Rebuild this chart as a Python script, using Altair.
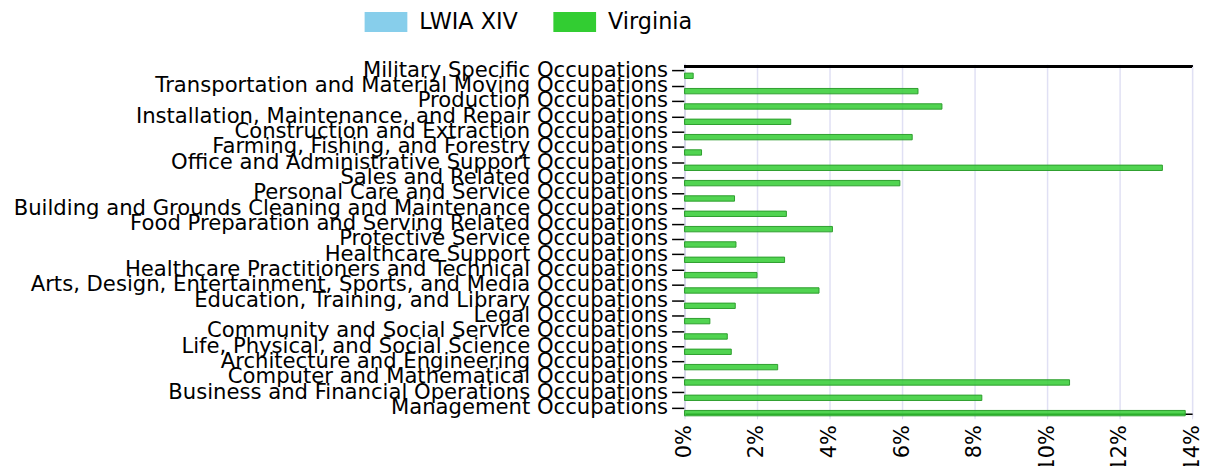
import altair as alt
import pandas as pd

categories = [
    "Military Specific Occupations",
    "Transportation and Material Moving Occupations",
    "Production Occupations",
    "Installation, Maintenance, and Repair Occupations",
    "Construction and Extraction Occupations",
    "Farming, Fishing, and Forestry Occupations",
    "Office and Administrative Support Occupations",
    "Sales and Related Occupations",
    "Personal Care and Service Occupations",
    "Building and Grounds Cleaning and Maintenance Occupations",
    "Food Preparation and Serving Related Occupations",
    "Protective Service Occupations",
    "Healthcare Support Occupations",
    "Healthcare Practitioners and Technical Occupations",
    "Arts, Design, Entertainment, Sports, and Media Occupations",
    "Education, Training, and Library Occupations",
    "Legal Occupations",
    "Community and Social Service Occupations",
    "Life, Physical, and Social Science Occupations",
    "Architecture and Engineering Occupations",
    "Computer and Mathematical Occupations",
    "Business and Financial Operations Occupations",
    "Management Occupations",
]

virginia = [0.24, 6.44, 7.10, 2.93, 6.28, 0.47, 13.18, 5.94, 1.38, 2.81, 4.08,
            1.42, 2.76, 2.00, 3.71, 1.40, 0.70, 1.18, 1.29, 2.57, 10.62, 8.20, 13.81]

series = ["LWIA XIV", "Virginia"]
series_colors = ["#87CEEB", "#32CD32"]
x_ticks = [0, 2, 4, 6, 8, 10, 12, 14]

df = pd.DataFrame({"occupation": categories, "value": virginia, "series": "Virginia"})

FONT = "DejaVu Sans"
W, H = 511, 350

bars = alt.Chart(df).mark_bar(
    height=alt.RelativeBandSize(0.7),
    fillOpacity=0.85,
    stroke="#2e9e2e",
    strokeWidth=1,
).encode(
    x=alt.X(
        "value:Q",
        scale=alt.Scale(domain=[0, 14], nice=False),
        axis=alt.Axis(
            values=x_ticks,
            labelExpr="datum.value + '%'",
            labelAngle=270,
            labelAlign="right",
            labelBaseline="middle",
            labelFontSize=21,
            labelFont=FONT,
            labelColor="#000000",
            labelPadding=6,
            tickSize=5,
            tickColor="#dcdcf0",
            domainColor="#000000",
            domainWidth=1.5,
            gridColor="#e0e0f4",
            gridWidth=1.5,
            title=None,
        ),
    ),
    y=alt.Y(
        "occupation:N",
        scale=alt.Scale(domain=categories, paddingInner=0, paddingOuter=0, range=[-3, 352]),
        axis=alt.Axis(
            labelFontSize=21.3,
            labelFont=FONT,
            labelColor="#000000",
            labelPadding=4,
            labelLimit=0,
            tickSize=13,
            tickColor="#000000",
            tickWidth=1.5,
            domainColor="#d4d4e8",
            domainWidth=1.5,
            grid=False,
            title=None,
        ),
    ),
    yOffset=alt.YOffset(
        "series:N",
        scale=alt.Scale(domain=series, paddingInner=0, paddingOuter=0),
    ),
    color=alt.Color(
        "series:N",
        scale=alt.Scale(domain=series, range=series_colors),
        legend=alt.Legend(
            title=None,
            orient="none",
            direction="horizontal",
            legendX=-322,
            legendY=-66,
            padding=0,
            symbolType="M-1,-0.47H1V0.47H-1Z",
            symbolSize=1849,
            symbolOpacity=1,
            symbolStrokeWidth=0,
            labelFontSize=22.5,
            labelFont=FONT,
            labelColor="#000000",
            labelOffset=12,
            columnPadding=35,
        ),
    ),
)

top_line = alt.Chart(df).mark_rule(color="#000000", strokeWidth=2).encode(
    x=alt.value(0), x2=alt.value(W), y=alt.value(0)
)

chart = alt.layer(bars, top_line).properties(
    width=W,
    height=H,
    autosize=alt.AutoSizeParams(type="none"),
    padding={"left": 681, "top": 57, "right": 17, "bottom": 51},
).configure_view(
    stroke="#b8b8cc", strokeWidth=1.5
).configure(background="#ffffff")

chart.save("out.html", embed_options={"renderer": "svg", "actions": False})
